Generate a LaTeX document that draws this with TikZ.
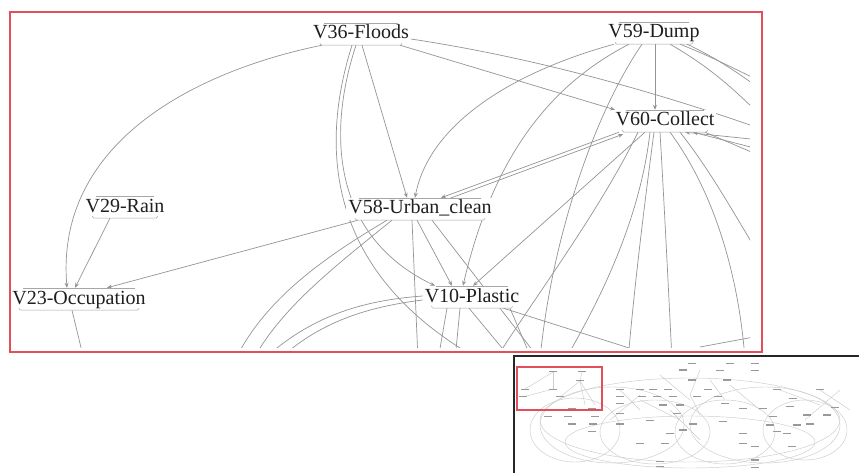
\documentclass[tikz,border=0pt]{standalone}
\usepackage{fontspec}
\setmainfont{Liberation Serif}
\usetikzlibrary{arrows.meta}
\pgfdeclarelayer{bg}
\pgfsetlayers{bg,main}
\definecolor{frame}{RGB}{226,78,92}
\begin{document}
\begin{tikzpicture}[x=1pt,y=-1pt,
  lbl/.style={font=\fontsize{20}{22}\selectfont, text=black!88, inner sep=2pt,
    text height=14pt, text depth=4pt, fill=white},
  nodeline/.style={draw=black!35, line width=0.5pt},
  edge/.style={draw=black!42, line width=0.7pt},
  arr/.style={edge, -{Stealth[length=5pt,width=4pt]}},
  mini/.style={draw=black!20, line width=0.45pt},
  minilbl/.style={fill=black!40}]
\useasboundingbox (0,0) rectangle (859,473);

% nodes
\node[lbl] (f36) at (361,34) {V36-Floods};
\node[lbl] (d59) at (654,33) {V59-Dump};
\node[lbl] (c60) at (665,121) {V60-Collect};
\node[lbl] (r29) at (125,207) {V29-Rain};
\node[lbl] (o23) at (79,299) {V23-Occupation};
\node[lbl] (u58) at (420,209) {V58-Urban\_clean};
\node[lbl] (p10) at (472,297) {V10-Plastic};

\foreach \n in {f36,d59,c60,r29,o23,u58,p10}{
  \draw[nodeline] ([xshift=13pt]\n.north west) -- ([xshift=-13pt]\n.north east);
  \draw[nodeline, rounded corners=1.5pt] ([xshift=9pt,yshift=2pt]\n.south west) -- ([xshift=9pt]\n.south west)
     -- ([xshift=-9pt]\n.south east) -- ([xshift=-9pt,yshift=2pt]\n.south east);
}

% free ends
\coordinate (z1) at (84,360);
\coordinate (z2) at (480,360);
\coordinate (z3) at (770,132);
\coordinate (z4) at (540,360);
\coordinate (z5) at (770,125);
\coordinate (z6) at (770,85);
\coordinate (z7) at (770,96);
\coordinate (z8) at (495,360);
\coordinate (z9) at (565,360);
\coordinate (z10) at (628,360);
\coordinate (z11) at (672,360);
\coordinate (z12) at (745,360);
\coordinate (z13) at (765,265);
\coordinate (z14) at (770,141);
\coordinate (z15) at (770,152);
\coordinate (z16) at (770,160);
\coordinate (z17) at (700,347);
\coordinate (z18) at (770,334);
\coordinate (z19) at (235,360);
\coordinate (z20) at (253,360);
\coordinate (z21) at (418,360);
\coordinate (z22) at (540,360);
\coordinate (z23) at (272,352);
\coordinate (z24) at (290,350);
\coordinate (z25) at (438,360);
\coordinate (z26) at (455,360);
\coordinate (z27) at (512,360);
\coordinate (z28) at (667,360);
\coordinate (z29) at (532,360);

\begin{pgfonlayer}{bg}
\fill[white] (0,0) rectangle (859,473);
\begin{scope}
\clip (12,14) rectangle (750,347);
% V36-Floods
\draw[arr] ([xshift=-39pt]f36.south) .. controls (200,70) and (55,140) .. ([xshift=-12pt]o23.north);
\draw[arr] ([xshift=-5pt]f36.south) .. controls (328,130) and (330,235) .. ([xshift=-37pt]p10.north);
\draw[edge] ([xshift=-9pt]f36.south) .. controls (322,140) and (320,270) .. (z2);
\draw[arr] ([xshift=1pt]f36.south) -- ([xshift=-13pt]u58.north);
\draw[arr] ([xshift=39pt]f36.south) -- ([xshift=-50pt]c60.north);
\draw[edge] ([yshift=-5pt]f36.east) .. controls (550,60) and (680,100) .. (z3);
% V29, V23
\draw[arr] ([xshift=-15pt]r29.south) -- ([xshift=-4pt]o23.north);
\draw[arr] ([xshift=-62pt]u58.south) -- ([xshift=28pt]o23.north);
\draw[edge] ([xshift=-7pt]o23.south) -- (z1);
% V59-Dump
\draw[arr] ([xshift=-40pt]d59.south) .. controls (520,70) and (430,120) .. ([xshift=-5pt]u58.north);
\draw[arr] ([xshift=-25pt]d59.south) .. controls (540,90) and (490,170) .. ([xshift=-9pt]p10.north);
\draw[edge] ([xshift=-12pt]d59.south) .. controls (590,120) and (550,250) .. (z4);
\draw[arr] ([xshift=1pt]d59.south) -- ([xshift=-10pt]c60.north);
\draw[edge] ([xshift=16pt]d59.south) .. controls (715,70) and (740,95) .. (z5);
\draw[edge] ([xshift=26pt]d59.south) .. controls (720,60) and (745,75) .. (z6);
\draw[edge] ([xshift=33pt]d59.south) .. controls (725,62) and (750,82) .. (z7);
% V60-Collect
\draw[arr] ([xshift=-46pt]c60.south) -- ([xshift=21pt]u58.north);
\draw[arr] ([xshift=26pt,yshift=-2pt]u58.north) -- ([xshift=-42pt,yshift=-2pt]c60.south);
\draw[arr] ([xshift=-20pt]c60.south) -- ([xshift=1pt]p10.north);
\draw[edge] ([xshift=-27pt]c60.south) .. controls (600,210) and (540,290) .. (z8);
\draw[edge] ([xshift=-15pt]c60.south) .. controls (640,220) and (600,300) .. (z9);
\draw[edge] ([xshift=-11pt]c60.south) .. controls (645,200) and (635,280) .. (z10);
\draw[edge] ([xshift=-5pt]c60.south) .. controls (664,200) and (668,280) .. (z11);
\draw[edge] ([xshift=5pt]c60.south) .. controls (720,200) and (740,290) .. (z12);
\draw[edge] ([xshift=15pt]c60.south) .. controls (710,170) and (735,215) .. (z13);
\draw[arr] (z14) -- ([xshift=20pt]c60.south);
\draw[arr] (z15) -- ([xshift=28pt]c60.south);
\draw[edge] ([xshift=40pt]c60.south) -- (z16);
\draw[edge] (z17) -- (z18);
% V58-Urban_clean
\draw[edge] ([xshift=-33pt]u58.south) .. controls (320,260) and (265,300) .. (z19);
\draw[edge] ([xshift=-28pt]u58.south) .. controls (330,270) and (280,310) .. (z20);
\draw[edge] ([xshift=-8pt]u58.south) -- (z21);
\draw[arr] ([xshift=-3pt]u58.south) -- ([xshift=-20pt]p10.north);
\draw[edge] ([xshift=12pt]u58.south) -- (z22);
% V10-Plastic
\draw[edge] ([yshift=1pt]p10.west) .. controls (370,300) and (320,312) .. (z23);
\draw[edge] ([yshift=-3pt]p10.west) .. controls (375,306) and (330,318) .. (z24);
\draw[edge] ([xshift=-25pt]p10.south) -- (z25);
\draw[edge] ([xshift=-12pt]p10.south) -- (z26);
\draw[edge] ([xshift=-3pt]p10.south) -- (z27);
\draw[edge] ([xshift=22pt,yshift=3pt]p10.south) -- (z28);
\draw[edge] ([xshift=38pt]p10.south) -- (z29);
\end{scope}
\end{pgfonlayer}

% main red frame
\draw[frame, line width=2pt] (10,12) rectangle (762,352);

% overview inset
\begin{scope}
\clip (515,357) rectangle (859,473);
\foreach \cx/\cy/\rx/\ry in {690/420/150/42, 612/425/72/38, 765/425/75/38,
   575/430/45/32, 655/432/55/32, 725/432/50/32, 805/430/42/30, 690/442/125/26}
  \draw[mini] (\cx,\cy) ellipse [x radius=\rx, y radius=\ry];
\foreach \ax/\ay/\bx/\by in {553/372/525/389, 553/372/553/389, 582/372/580/381, 580/381/560/397,
   580/381/585/405, 580/381/595/405, 553/389/523/397, 620/390/640/410, 640/400/680/420,
   690/395/700/415, 710/380/725/400, 730/385/760/410, 780/390/820/405, 820/390/850/410,
   840/390/805/420, 660/375/690/400, 700/370/690/395, 640/395/610/420, 670/410/700/440}
  \draw[mini] (\ax,\ay) -- (\bx,\by);
\foreach \X/\Y in {545/40,660/40,735/40,520/60,630/62,735/62,128/65,215/65,210/92,545/90,650/90,
   45/118,130/118,330/118,390/118,430/118,475/118,595/118,800/118,930/118,40/140,150/140,330/140,
   395/140,440/140,490/140,560/140,625/140,850/145,330/160,460/165,510/165,645/160,700/175,760/175,
   840/170,975/172,110/178,185/175,245/175,115/200,175/200,255/200,330/190,500/190,790/200,890/195,
   950/195,185/222,250/222,330/222,420/212,550/222,640/215,780/225,860/225,900/222,245/245,480/250,
   520/240,700/250,800/245,830/250,390/280,465/280,700/280,735/290,845/290,450/335,735/330,450/350,735/352}
  \fill[minilbl] ({510+\X/3-4},{350+\Y/3-0.8}) rectangle +(8,1.6);
\end{scope}
\draw[frame, line width=1.3pt] (517,367) rectangle (602,410);
\draw[black!85, line width=2.2pt] (514,474) -- (514,356) -- (860,356);
\end{tikzpicture}
\end{document}
